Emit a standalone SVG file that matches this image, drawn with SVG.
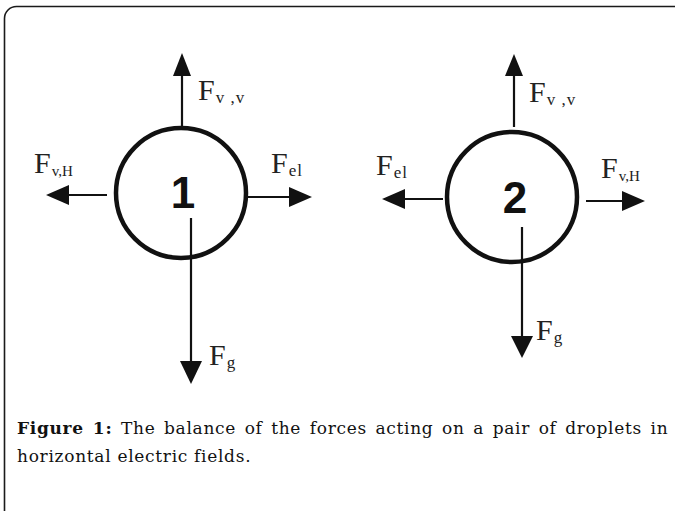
<svg xmlns="http://www.w3.org/2000/svg" width="675" height="511" viewBox="0 0 675 511">
<style>
.frame{fill:none;stroke:#1a1a1a;stroke-width:1.6}
.drop{fill:none;stroke:#111;stroke-width:4.5}
.arr{stroke:#111;stroke-width:2.2;fill:none}
.head{fill:#111}
.lbl{font-family:"Liberation Serif",serif;font-size:30px;fill:#222}
.sub{font-size:17px;letter-spacing:1px}
.subh{font-size:15px}
.num{font-family:"Liberation Sans",Arial,sans-serif;font-weight:bold;font-size:44px;fill:#111;text-anchor:middle}
.cap{font-family:"DejaVu Serif",serif;font-size:17px;letter-spacing:0.7px;fill:#111}
</style>
<rect class="frame" x="4.5" y="6.5" width="700" height="530" rx="12"/>
<g id="connectors">
  <line class="arr" x1="182" y1="127" x2="182" y2="72"/>
  <polygon class="head" points="182,53 173,76 191,76"/>
  <line class="arr" x1="107" y1="195" x2="66" y2="195"/>
  <polygon class="head" points="46,195 69,185 69,205"/>
  <line class="arr" x1="248" y1="197" x2="292" y2="197"/>
  <polygon class="head" points="312,197 289,187 289,207"/>
  <line class="arr" x1="191" y1="218" x2="191" y2="365"/>
  <polygon class="head" points="191,384 180,361 202,361"/>
  <line class="arr" x1="514" y1="127" x2="514" y2="72"/>
  <polygon class="head" points="514,54 505,76 523,76"/>
  <line class="arr" x1="443" y1="199" x2="402" y2="199"/>
  <polygon class="head" points="382,199 405,189 405,209"/>
  <line class="arr" x1="586" y1="201" x2="626" y2="201"/>
  <polygon class="head" points="645,201 622,191 622,211"/>
  <line class="arr" x1="522" y1="227" x2="522" y2="340"/>
  <polygon class="head" points="522,358 511,336 533,336"/>
</g>
<g id="droplet1">
  <circle class="drop" cx="181" cy="193" r="65"/>
  <text class="num" x="183" y="208">1</text>
</g>
<g id="droplet2">
  <circle class="drop" cx="512" cy="197" r="65"/>
  <text class="num" x="515" y="213">2</text>
</g>
<g id="labels1">
  <text class="lbl" x="198" y="100">F<tspan class="sub" dx="1" dy="3">v ,v</tspan></text>
  <text class="lbl" x="34" y="173">F<tspan class="subh" dx="1" dy="3">v,H</tspan></text>
  <text class="lbl" x="271" y="173">F<tspan class="sub" dx="1" dy="3">el</tspan></text>
  <text class="lbl" x="209" y="365">F<tspan class="sub" dx="1" dy="3">g</tspan></text>
</g>
<g id="labels2">
  <text class="lbl" x="529" y="102">F<tspan class="sub" dx="1" dy="3">v ,v</tspan></text>
  <text class="lbl" x="376" y="175">F<tspan class="sub" dx="1" dy="3">el</tspan></text>
  <text class="lbl" x="601" y="178">F<tspan class="subh" dx="1" dy="3">v,H</tspan></text>
  <text class="lbl" x="536" y="340">F<tspan class="sub" dx="1" dy="3">g</tspan></text>
</g>
<g id="caption">
  <text class="cap" x="17" y="434" word-spacing="2.5"><tspan font-weight="bold">Figure 1:</tspan> The balance of the forces acting on a pair of droplets in</text>
  <text class="cap" x="17" y="462">horizontal electric fields.</text>
</g>
</svg>
